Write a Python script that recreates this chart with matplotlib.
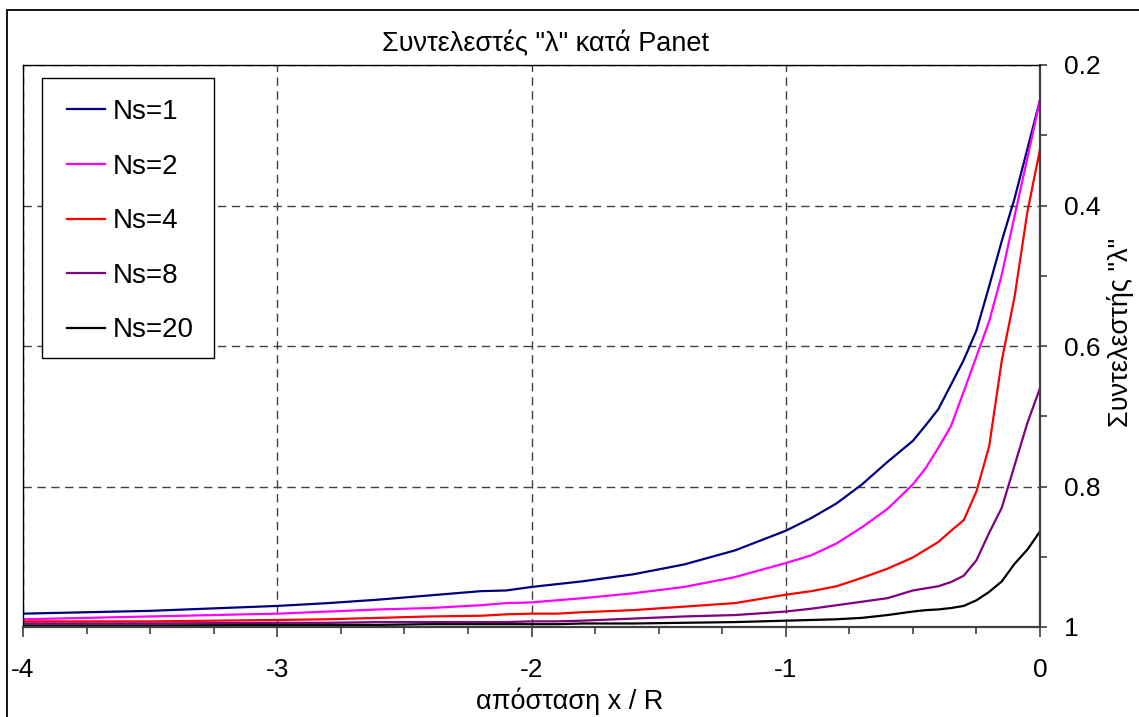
import matplotlib.pyplot as plt
from matplotlib.patches import Rectangle

# x / R positions
x = [-4, -3.5, -3, -2.8, -2.6, -2.4, -2.2, -2.1, -2.0, -1.9, -1.8, -1.6, -1.4, -1.2,
     -1.0, -0.9, -0.8, -0.7, -0.6, -0.5, -0.45, -0.4, -0.35, -0.3, -0.25, -0.2,
     -0.15, -0.1, -0.05, 0]

# coefficient "lambda" for each Ns
ns1 = [0.981, 0.977, 0.970, 0.966, 0.961, 0.955, 0.949, 0.948, 0.943, 0.939, 0.935, 0.925,
       0.911, 0.891, 0.863, 0.845, 0.824, 0.797, 0.765, 0.735, 0.713, 0.690, 0.655, 0.620,
       0.578, 0.515, 0.450, 0.390, 0.320, 0.250]
ns2 = [0.989, 0.985, 0.981, 0.978, 0.975, 0.973, 0.969, 0.966, 0.965, 0.962, 0.959, 0.952,
       0.943, 0.929, 0.909, 0.898, 0.881, 0.858, 0.832, 0.797, 0.774, 0.745, 0.714, 0.665,
       0.615, 0.565, 0.498, 0.415, 0.333, 0.250]
ns4 = [0.992, 0.992, 0.990, 0.989, 0.987, 0.985, 0.984, 0.982, 0.981, 0.981, 0.979, 0.976,
       0.971, 0.966, 0.954, 0.949, 0.942, 0.930, 0.917, 0.901, 0.890, 0.879, 0.863, 0.848,
       0.807, 0.743, 0.620, 0.530, 0.410, 0.320]
ns8 = [0.995, 0.995, 0.994, 0.994, 0.993, 0.993, 0.993, 0.993, 0.992, 0.992, 0.991, 0.988,
       0.985, 0.983, 0.978, 0.974, 0.969, 0.964, 0.959, 0.948, 0.945, 0.942, 0.936, 0.927,
       0.905, 0.866, 0.830, 0.770, 0.710, 0.660]
ns20 = [0.998, 0.998, 0.997, 0.997, 0.997, 0.996, 0.996, 0.996, 0.996, 0.996, 0.995, 0.995,
        0.994, 0.993, 0.991, 0.990, 0.989, 0.987, 0.983, 0.978, 0.976, 0.975, 0.973, 0.970,
        0.962, 0.950, 0.935, 0.910, 0.890, 0.864]

labels = ["Ns=1", "Ns=2", "Ns=4", "Ns=8", "Ns=20"]
colors = ["#000080", "#FF00FF", "#FF0000", "#800080", "#000000"]
series = [ns1, ns2, ns4, ns8, ns20]

xticks = [-4, -3, -2, -1, 0]
xticklabels = ["-4", "-3", "-2", "-1", "0"]
yticks = [0.2, 0.4, 0.6, 0.8, 1.0]
yticklabels = ["0.2", "0.4", "0.6", "0.8", "1"]

plt.rcParams['font.family'] = ['Liberation Sans', 'DejaVu Sans']

W, H = 1139, 717
fig = plt.figure(figsize=(W / 100, H / 100), dpi=100)
ax = fig.add_axes([23 / W, 90 / H, 1017 / W, 562 / H])

for vals, lab, col in zip(series, labels, colors):
    ax.plot(x, vals, color=col, lw=1.6, label=lab)

ax.set_xlim(-4, 0)
ax.set_ylim(1, 0.2)

ax.set_xticks(xticks)
ax.set_xticklabels(xticklabels)
ax.set_xticks([-4 + 0.25 * i for i in range(17)], minor=True)
ax.yaxis.tick_right()
ax.set_yticks(yticks)
ax.set_yticklabels(yticklabels)
ax.set_yticks([0.3, 0.5, 0.7, 0.9], minor=True)

ax.tick_params(axis='x', which='major', direction='out', length=7, width=1.2,
               color='#404040', labelsize=19, pad=15)
ax.tick_params(axis='x', which='minor', direction='out', length=5, width=1.2, color='#404040')
ax.tick_params(axis='y', which='both', direction='out', length=5, width=1.2,
               color='#404040', labelsize=19, pad=12)

ax.grid(True, which='major', color='#404040', linestyle=(0, (6, 4)), lw=1.0)

for side in ['left', 'top']:
    ax.spines[side].set_color('black')
    ax.spines[side].set_linewidth(1.0)
for side in ['right', 'bottom']:
    ax.spines[side].set_color('#404040')
    ax.spines[side].set_linewidth(1.6)

fig.text(546 / W, 1 - 51 / H, 'Συντελεστές "λ" κατά Panet', ha='center', va='baseline', fontsize=19.5)
ax.set_xlabel("απόσταση x / R", fontsize=19.5)
ax.xaxis.set_label_coords((570 - 23) / 1017, -(709 - 627) / 562)
ax.xaxis.label.set_va('baseline')
ax.yaxis.set_label_position('right')
ax.set_ylabel('Συντελεστής "λ"', fontsize=19.5, rotation=90)
ax.yaxis.set_label_coords((1107 - 23) / 1017, (627 - 332) / 562)

# legend box (white, covers the grid) and the entries on top of it
ax.add_patch(Rectangle((42 / W, 1 - 358 / H), 172 / W, 280 / H, transform=fig.transFigure,
                       fc='white', ec='black', lw=1.0, zorder=4, clip_on=False))
leg = ax.legend(loc='upper left', bbox_to_anchor=(67 / W, 1 - 99 / H),
                bbox_transform=fig.transFigure, borderaxespad=0, borderpad=0,
                fontsize=20, frameon=False, handlelength=1.37,
                handletextpad=0.29, labelspacing=1.03)
leg.set_zorder(5)

fig.patches.append(Rectangle((7 / W, -0.1), 1.2, 1 - 10 / H + 0.1, transform=fig.transFigure,
                             fill=False, ec='black', lw=1.3))

fig.savefig("out.png", dpi=100)
